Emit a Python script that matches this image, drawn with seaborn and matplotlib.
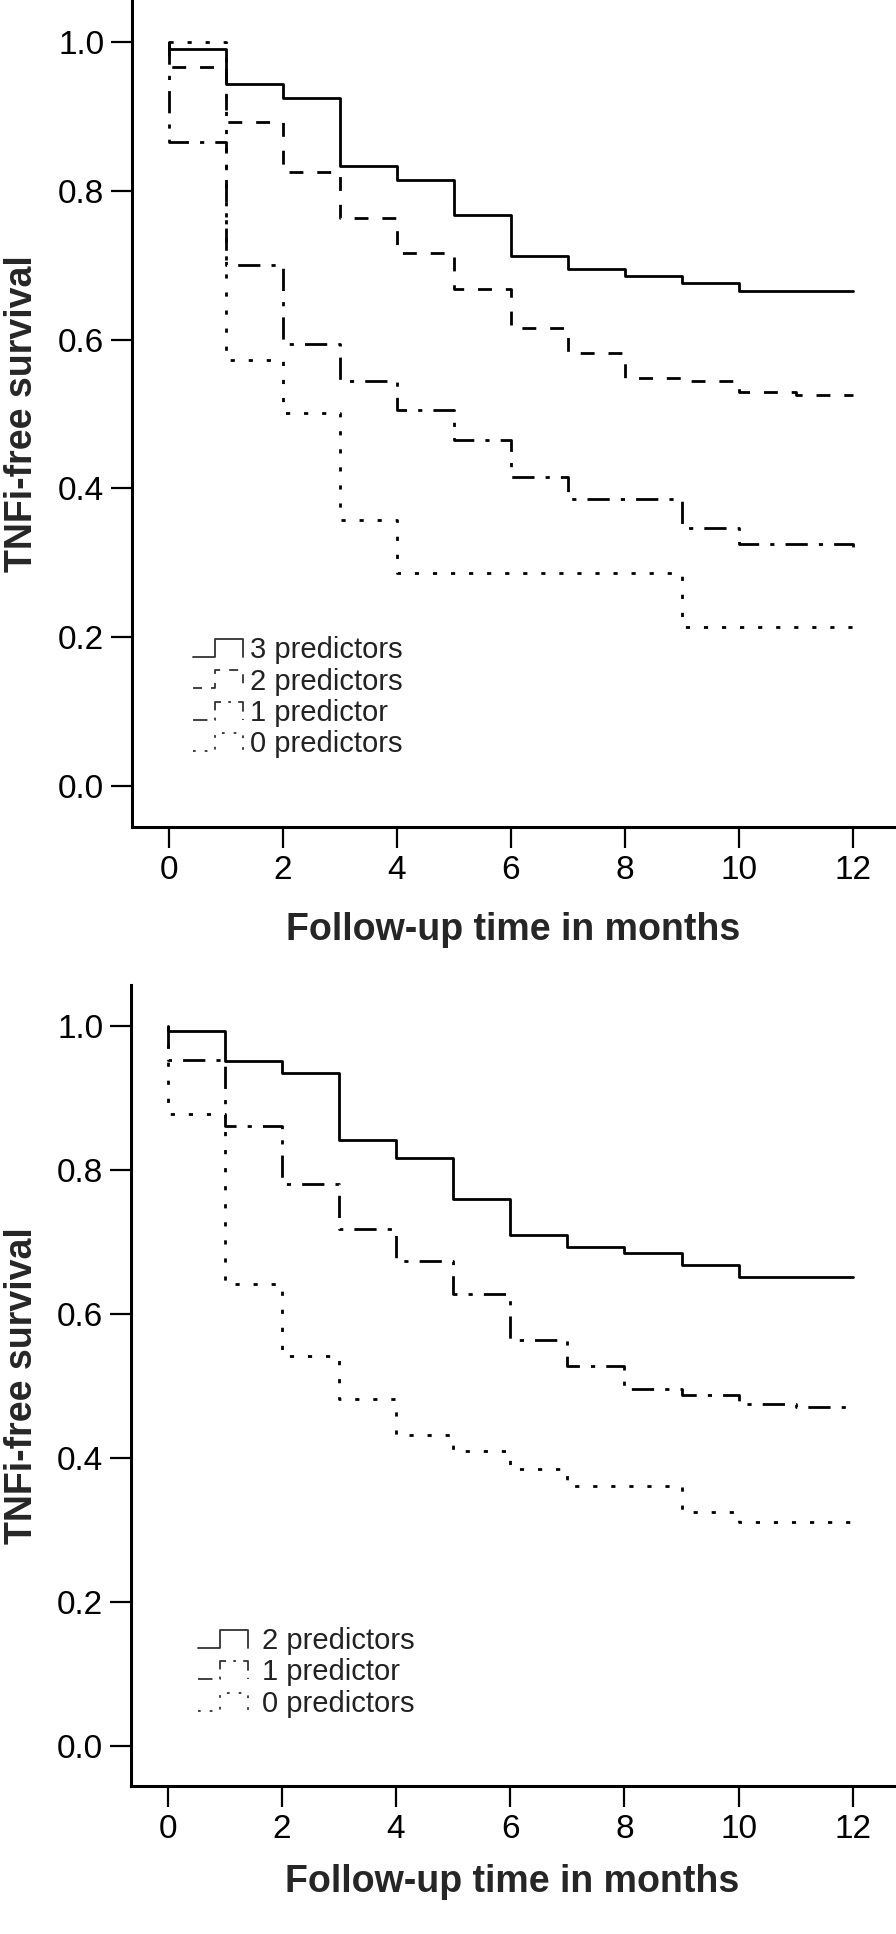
import matplotlib
matplotlib.use("Agg")
import matplotlib.pyplot as plt
import seaborn as sns
from matplotlib.legend_handler import HandlerBase
from matplotlib.lines import Line2D

sns.set_style("ticks")
plt.rcParams["font.family"] = ["Liberation Sans", "DejaVu Sans"]

# top panel (0-3 predictors), survival
top_labels = ["3 predictors", "2 predictors", "1 predictor", "0 predictors"]
top_t3 = [0, 0, 1, 2, 3, 4, 5, 6, 7, 8, 9, 10, 12]
top_s3 = [1.0, 0.991, 0.944, 0.925, 0.834, 0.815, 0.768, 0.713, 0.695, 0.685, 0.676, 0.666, 0.666]
top_t2 = [0, 0, 1, 2, 3, 4, 5, 6, 7, 8, 9, 10, 11, 12]
top_s2 = [1.0, 0.967, 0.892, 0.825, 0.763, 0.716, 0.668, 0.615, 0.582, 0.549, 0.544, 0.530, 0.525, 0.525]
top_t1 = [0, 0, 1, 2, 3, 4, 5, 6, 7, 9, 10, 12, 12]
top_s1 = [1.0, 0.865, 0.700, 0.594, 0.544, 0.506, 0.465, 0.416, 0.386, 0.347, 0.326, 0.326, 0.309]
top_t0 = [0, 1, 2, 3, 4, 9, 12]
top_s0 = [1.0, 0.573, 0.501, 0.357, 0.286, 0.214, 0.214]

# bottom panel (0-2 predictors)
bot_labels = ["2 predictors", "1 predictor", "0 predictors"]
bot_t2 = [0, 0, 1, 2, 3, 4, 5, 6, 7, 8, 9, 10, 12]
bot_s2 = [1.0, 0.993, 0.951, 0.934, 0.842, 0.817, 0.760, 0.709, 0.693, 0.684, 0.668, 0.651, 0.651]
bot_t1 = [0, 0, 1, 2, 3, 4, 5, 6, 7, 8, 9, 10, 11, 12]
bot_s1 = [1.0, 0.952, 0.861, 0.781, 0.718, 0.673, 0.628, 0.564, 0.528, 0.496, 0.488, 0.475, 0.471, 0.471]
bot_t0 = [0, 0, 1, 2, 3, 4, 5, 6, 7, 9, 10, 12]
bot_s0 = [1.0, 0.877, 0.641, 0.541, 0.482, 0.432, 0.410, 0.385, 0.361, 0.325, 0.312, 0.312]

x_ticks = [0, 2, 4, 6, 8, 10, 12]
y_ticks = [0.0, 0.2, 0.4, 0.6, 0.8, 1.0]

SOLID = "-"
DASHED = (0, (5, 5))
DASHDOT = (0, (8, 4, 1.5, 4))
DOTTED = (0, (1.5, 5))


class StepHandler(HandlerBase):
    # SPSS-like step icon in the legend
    def create_artists(self, legend, orig_handle, xdescent, ydescent,
                       width, height, fontsize, trans):
        x0, y0 = -xdescent, -ydescent
        lo, hi = y0 + 0.05 * height, y0 + 0.95 * height
        xs = [x0, x0 + 0.45 * width, x0 + 0.45 * width, x0 + width, x0 + width]
        ys = [lo, lo, hi, hi, lo]
        line = Line2D(xs, ys)
        line.update_from(orig_handle)
        line.set_drawstyle("default")
        line.set_linewidth(1.3)
        line.set_color("#333333")
        line.set_transform(trans)
        return [line]


def km_panel(ax, series, legend_xy, textpad):
    for t, s, lab, ls in series:
        sns.lineplot(x=t, y=s, ax=ax, label=lab, color="black", linewidth=2.0,
                     linestyle=ls, drawstyle="steps-post",
                     estimator=None, sort=False)

    ax.set_xlim(-0.64, 12.72)
    ax.set_ylim(-0.055, 1.0565)
    ax.set_xticks(x_ticks)
    ax.set_yticks(y_ticks)
    ax.set_yticklabels([f"{v:.1f}" for v in y_ticks])
    sns.despine(ax=ax)
    for side in ["left", "bottom"]:
        ax.spines[side].set_linewidth(2.2)
        ax.spines[side].set_color("black")
    ax.tick_params(direction="out", length=15, width=1.6, labelsize=24,
                   pad=5, colors="black")

    ax.set_xlabel("Follow-up time in months", fontsize=27, fontweight="bold")
    ax.set_ylabel("TNFi-free survival", fontsize=27, fontweight="bold")
    ax.xaxis.label.set_va("baseline")
    ax.yaxis.label.set_va("baseline")

    handles, labels = ax.get_legend_handles_labels()
    ax.legend(handles, labels, handler_map={Line2D: StepHandler()},
              loc="upper left", bbox_to_anchor=legend_xy,
              bbox_transform=fig.transFigure, frameon=False,
              borderpad=0, borderaxespad=0, handlelength=1.7,
              handletextpad=textpad, labelspacing=0.12, fontsize=21,
              labelcolor="#222222")


W, H = 896, 1934
fig = plt.figure(figsize=(W / 100, H / 100), dpi=100)

ax1 = fig.add_axes([132 / W, 1 - 827 / H, (894 - 132) / W, 827 / H])
km_panel(ax1, [(top_t3, top_s3, top_labels[0], SOLID),
               (top_t2, top_s2, top_labels[1], DASHED),
               (top_t1, top_s1, top_labels[2], DASHDOT),
               (top_t0, top_s0, top_labels[3], DOTTED)],
         (193 / W, 1 - 636 / H), 0.25)
ax1.xaxis.set_label_coords(0.5, -(940 - 827) / 827)
ax1.yaxis.set_label_coords(-(132 - 32) / 762, 0.5)

ax2 = fig.add_axes([131 / W, 1 - 1786 / H, (894 - 131) / W, (1786 - 985) / H])
km_panel(ax2, [(bot_t2, bot_s2, bot_labels[0], SOLID),
               (bot_t1, bot_s1, bot_labels[1], DASHDOT),
               (bot_t0, bot_s0, bot_labels[2], DOTTED)],
         (198 / W, 1 - 1627 / H), 0.5)
ax2.xaxis.set_label_coords(0.5, -(1892 - 1786) / 801)
ax2.yaxis.set_label_coords(-(131 - 32) / 763, 0.5)

fig.savefig("out.png", dpi=100)
